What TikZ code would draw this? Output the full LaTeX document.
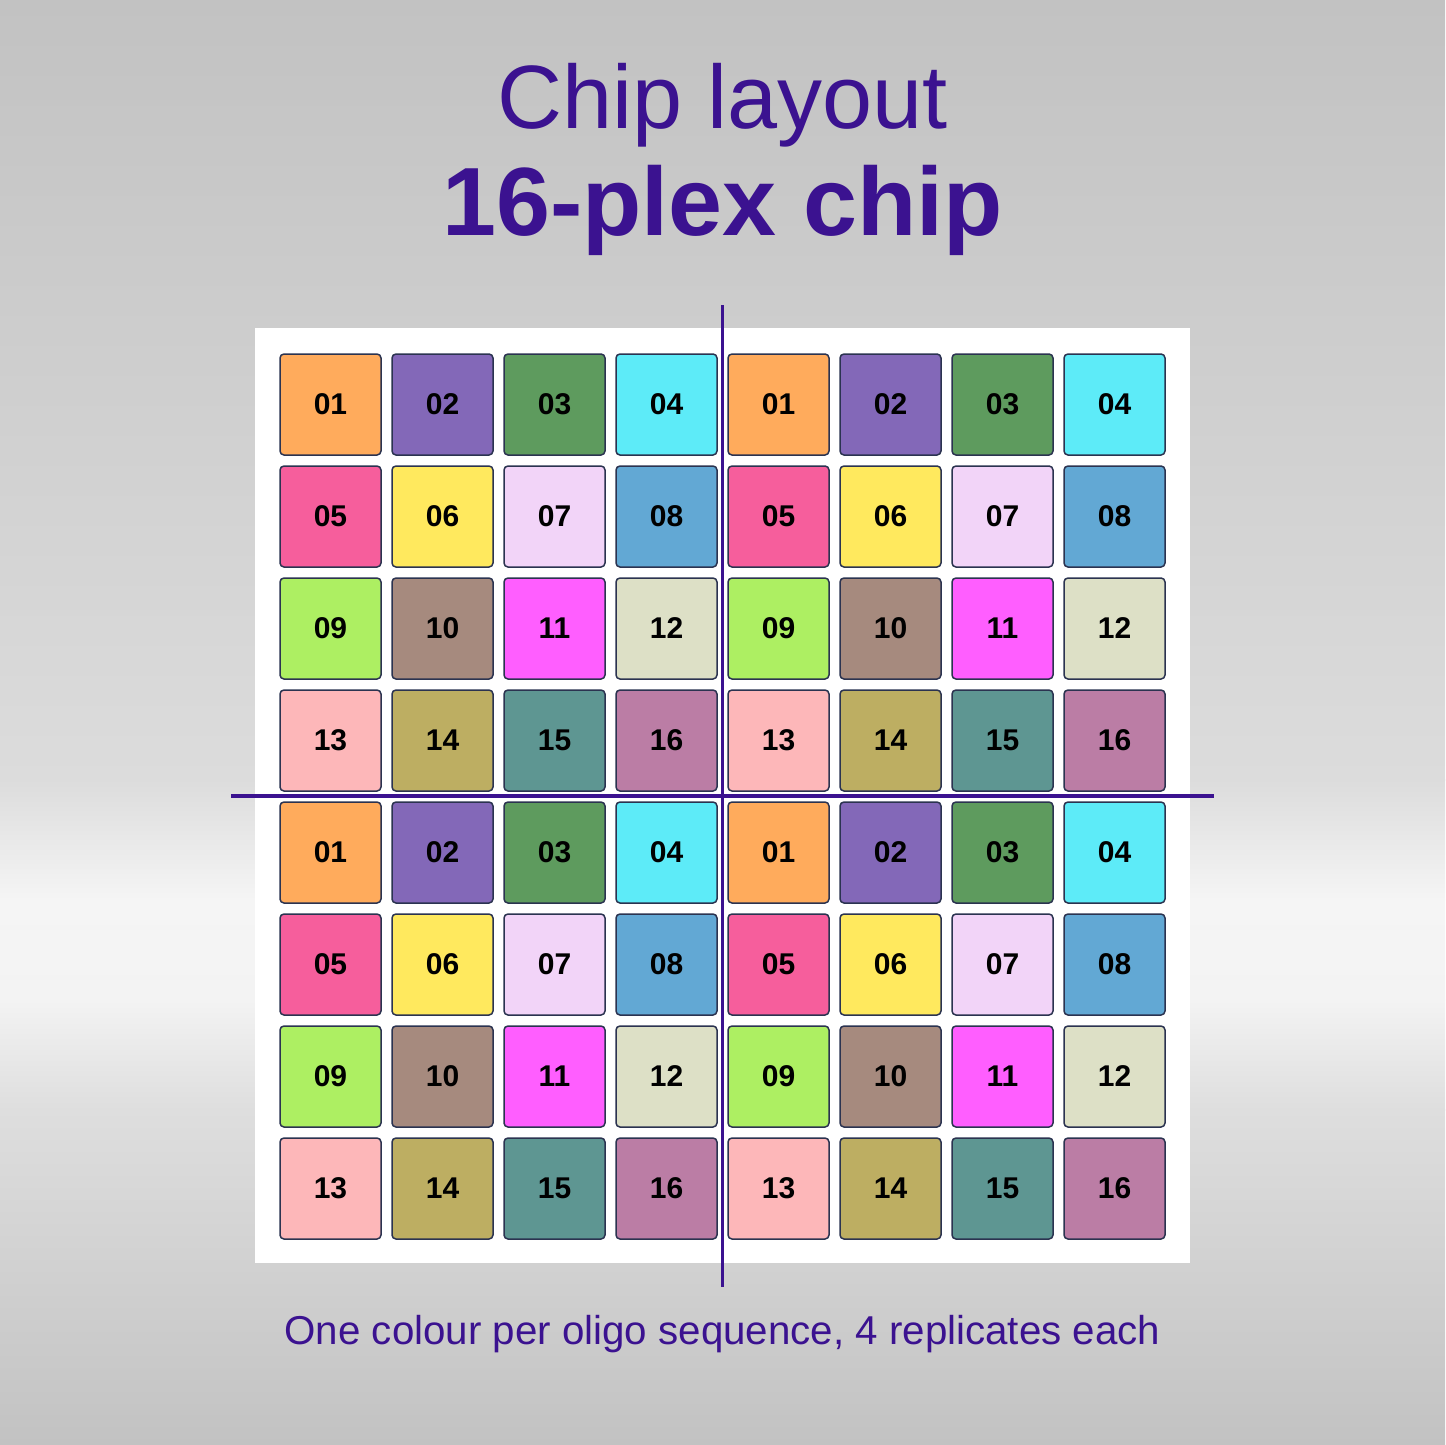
\documentclass[tikz,border=0pt]{standalone}
\usepackage{fontspec}
\setmainfont{Liberation Sans}
\definecolor{ink}{HTML}{3B1290}
\definecolor{edge}{HTML}{2B3350}
\definecolor{c01}{HTML}{FFAB5C}
\definecolor{c02}{HTML}{8368B8}
\definecolor{c03}{HTML}{5E9B5E}
\definecolor{c04}{HTML}{5DEBF8}
\definecolor{c05}{HTML}{F65E9C}
\definecolor{c06}{HTML}{FFE95E}
\definecolor{c07}{HTML}{F2D4F8}
\definecolor{c08}{HTML}{62A8D4}
\definecolor{c09}{HTML}{ADEF62}
\definecolor{c10}{HTML}{A68A7E}
\definecolor{c11}{HTML}{FF5EFF}
\definecolor{c12}{HTML}{DDE0C6}
\definecolor{c13}{HTML}{FDB7B9}
\definecolor{c14}{HTML}{BDAE62}
\definecolor{c15}{HTML}{5E9692}
\definecolor{c16}{HTML}{BB7DA5}
\definecolor{bgA}{HTML}{C2C2C2}
\definecolor{bgB}{HTML}{DCDCDC}
\definecolor{bgC}{HTML}{F5F5F5}
\definecolor{bgD}{HTML}{F3F3F3}
\definecolor{bgE}{HTML}{DEDEDE}
\begin{document}
\begin{tikzpicture}[x=1pt,y=-1pt,
  spot/.style={draw=edge,line width=1.5pt,rounded corners=4pt,minimum width=101pt,minimum height=101pt,inner sep=0pt,font=\fontsize{30}{30}\selectfont\bfseries,text=black},
  axisline/.style={draw=ink,line width=3.8pt},
  titletext/.style={text=ink,inner sep=0pt,anchor=base}]
\useasboundingbox (0,0) rectangle (1445,1445);
% background gradient
\shade[top color=bgA,bottom color=bgB] (0,0) rectangle (1445,780);
\shade[top color=bgB,bottom color=bgC] (0,779.5) rectangle (1445,900);
\shade[top color=bgC,bottom color=bgD] (0,899.5) rectangle (1445,1000);
\shade[top color=bgD,bottom color=bgE] (0,999.5) rectangle (1445,1110);
\shade[top color=bgE,bottom color=bgA] (0,1109.5) rectangle (1445,1445);
% titles
\node[titletext,font=\fontsize{90}{90}\selectfont] (t1) at (722.5,128) {Chip layout};
\node[titletext,font=\fontsize{97}{97}\selectfont\bfseries] (t2) at (722.5,235) {16-plex chip};
% panel
\node[fill=white,inner sep=0pt,minimum width=935pt,minimum height=935pt] (panel) at (722.5,795.5) {};
% spots
\foreach \r in {0,...,7}{
  \foreach \c in {0,...,7}{
    \pgfmathtruncatemacro\idx{mod(\r,4)*4+mod(\c,4)+1}
    \edef\lab{\ifnum\idx<10 0\fi\idx}
    \node[spot,fill=c\lab] (s-\r-\c) at ({330.5+112*\c},{404.5+112*\r}) {\lab};
  }
}
% cross
\coordinate (vt) at (722.5,305);
\coordinate (vb) at (722.5,1287);
\coordinate (hl) at (231,796);
\coordinate (hr) at (1214,796);
\draw[axisline] (vt) -- (vb);
\draw[axisline] (hl) -- (hr);
% caption
\node[titletext,font=\fontsize{40.3}{40.3}\selectfont] (cap) at (722.5,1344) {One colour per oligo sequence, 4 replicates each};
\end{tikzpicture}
\end{document}
